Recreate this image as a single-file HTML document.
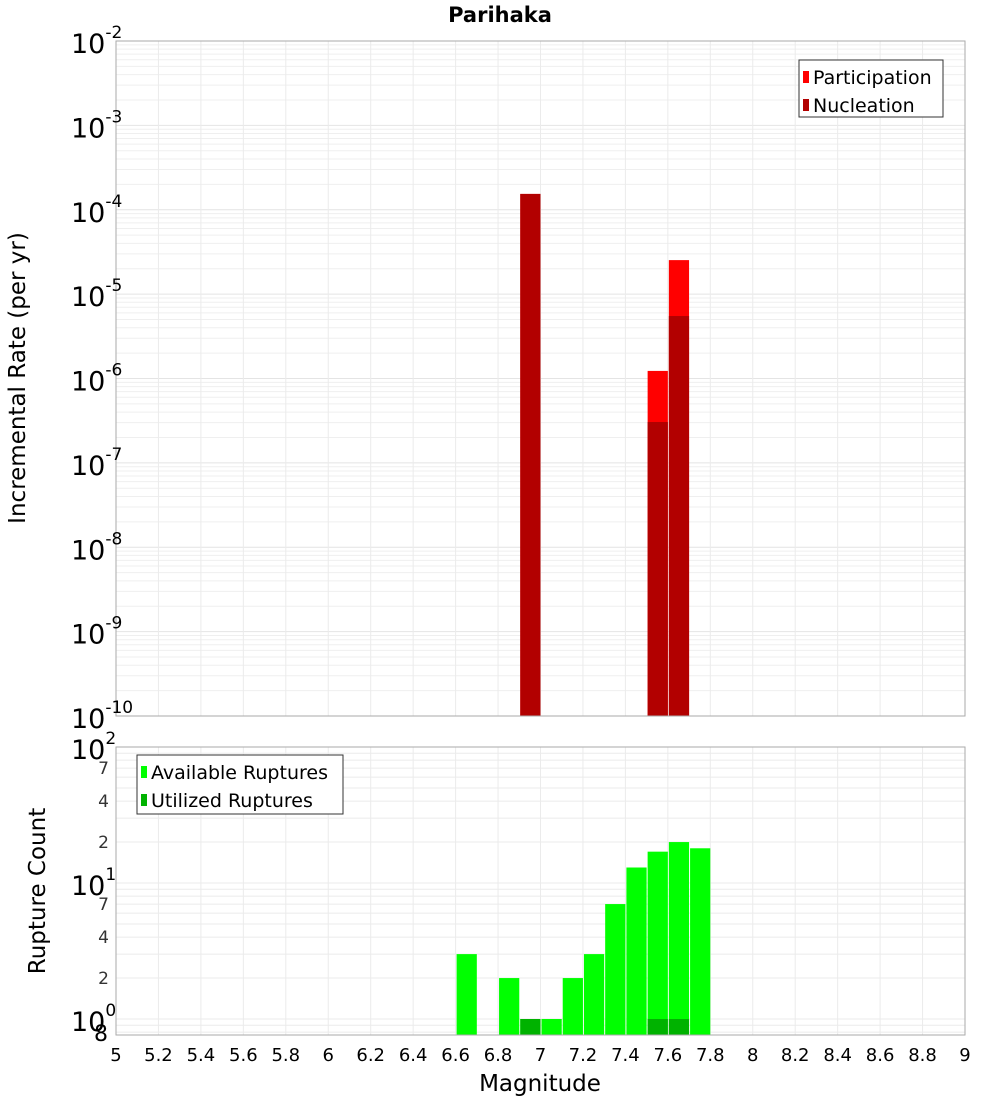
<!DOCTYPE html>
<html><head><meta charset="utf-8"><style>
body{margin:0;background:#fff;font-family:"DejaVu Sans","Liberation Sans",sans-serif}
</style></head><body>
<svg id="c" width="1000" height="1100" xmlns="http://www.w3.org/2000/svg" font-family="DejaVu Sans, Liberation Sans, sans-serif">
<text x="500" y="22" text-anchor="middle" font-size="21" font-weight="bold">Parihaka</text>
<text transform="translate(25,378) rotate(-90)" text-anchor="middle" font-size="23">Incremental Rate (per yr)</text>
<text transform="translate(45,891) rotate(-90)" text-anchor="middle" font-size="23">Rupture Count</text>
<text x="540" y="1091" text-anchor="middle" font-size="23">Magnitude</text>
<g id="g"></g>
</svg>
<script>
const mags=[6.6,6.8,6.9,7.0,7.1,7.2,7.3,7.4,7.5,7.6,7.7];
const available=[3,2,1,1,2,3,7,13,17,20,18];
const utilMags=[6.9,7.5,7.6];
const utilized=[1,1,1];
const rateMags=[6.9,7.5,7.6];
const participation=[1.54e-4,1.23e-6,2.53e-5];
const nucleation=[1.54e-4,3.05e-7,5.5e-6];
const xTicks=[5,5.2,5.4,5.6,5.8,6,6.2,6.4,6.6,6.8,7,7.2,7.4,7.6,7.8,8,8.2,8.4,8.6,8.8,9];

const NS="http://www.w3.org/2000/svg";
const g=document.getElementById('g');
function el(t,a,txt){const e=document.createElementNS(NS,t);for(const k in a)e.setAttribute(k,a[k]);if(txt!==undefined)e.textContent=txt;g.appendChild(e);return e;}
const L=116,R=965;
const x=m=>L+(m-5)*(R-L)/4;
const T1=41,B1=716;
const y1=v=>T1+(-2-Math.log10(v))*(B1-T1)/8;
const T2=747,D2=136;
const y2=v=>T2+(2-Math.log10(v))*D2;
const B2=1035;

for(let d=-10;d<-2;d++)for(let k=1;k<10;k++){const yy=y1(k*Math.pow(10,d));const e=el('line',{x1:L,x2:R,y1:yy,y2:yy,stroke:k==1?'#e4e4e4':'#efefef','stroke-width':1});}
for(let d=-1;d<2;d++)for(let k=1;k<10;k++){const v=k*Math.pow(10,d);const yy=y2(v);if(yy>B2||yy<T2)continue;const e=el('line',{x1:L,x2:R,y1:yy,y2:yy,stroke:'#ebebeb','stroke-width':1});}
xTicks.forEach(t=>{const xx=x(t);
 const a=el('line',{x1:xx,x2:xx,y1:T1,y2:B1,stroke:'#ebebeb'});
 const b=el('line',{x1:xx,x2:xx,y1:T2,y2:B2,stroke:'#ebebeb'});
 const tx=el('text',{x:xx,y:1061,'text-anchor':'middle','font-size':18},String(t));
});
rateMags.forEach((m,i)=>{
 const x0=x(m)+1,w=x(m+0.1)-x(m)-1;
 const p=el('rect',{x:x0,y:y1(participation[i]),width:w,height:B1-y1(participation[i]),fill:'#ff0000'});
 const n=el('rect',{x:x0,y:y1(nucleation[i]),width:w,height:B1-y1(nucleation[i]),fill:'#b20000'});
});
mags.forEach((m,i)=>{
 const x0=x(m)+1,w=x(m+0.1)-x(m)-1;
 const r=el('rect',{x:x0,y:y2(available[i]),width:w,height:B2-y2(available[i]),fill:'#00ff00'});
});
utilMags.forEach((m,i)=>{
 const x0=x(m)+1,w=x(m+0.1)-x(m)-1;
 const r=el('rect',{x:x0,y:y2(utilized[i]),width:w,height:B2-y2(utilized[i]),fill:'#00b200'});
});
let f=el('rect',{x:L,y:T1,width:R-L,height:B1-T1,fill:'none',stroke:'#aaa'});
f=el('rect',{x:L,y:T2,width:R-L,height:B2-T2,fill:'none',stroke:'#aaa'});
for(let d=-10;d<=-2;d++){const yy=y1(Math.pow(10,d));
 const t=el('text',{x:71,y:yy+12,'font-size':27});
 t.innerHTML='10<tspan dy="-15" font-size="17">'+d+'</tspan>';}
[[100,'2'],[10,'1'],[1,'0']].forEach(([v,s])=>{const yy=y2(v);const t=el('text',{x:71,y:yy+12,'font-size':27});t.innerHTML='10<tspan dy="-15" font-size="17">'+s+'</tspan>';});
[[70,'7'],[40,'4'],[20,'2'],[7,'7'],[4,'4'],[2,'2']].forEach(([v,s])=>{const t=el('text',{x:109,y:y2(v)+6,'font-size':17,'text-anchor':'end',fill:'#333'},s);});
let t8=el('text',{x:108,y:y2(0.8)+9,'font-size':22,'text-anchor':'end'},'8');
function legend(x0,y0,w,h,items,name){const r=el('rect',{x:x0,y:y0,width:w,height:h,fill:'#fff',stroke:'#333'});
 items.forEach(([c,s],i)=>{const yy=y0+17+i*28;const sw=el('rect',{x:x0+4,y:yy-6,width:6,height:12,fill:c});
 const t=el('text',{x:x0+14,y:yy+7,'font-size':19},s);});}
legend(799,60,144,57,[['#ff0000','Participation'],['#b20000','Nucleation']],'top-legend');
legend(137,755,206,59,[['#00ff00','Available Ruptures'],['#00b200','Utilized Ruptures']],'bottom-legend');
</script>
</body></html>
